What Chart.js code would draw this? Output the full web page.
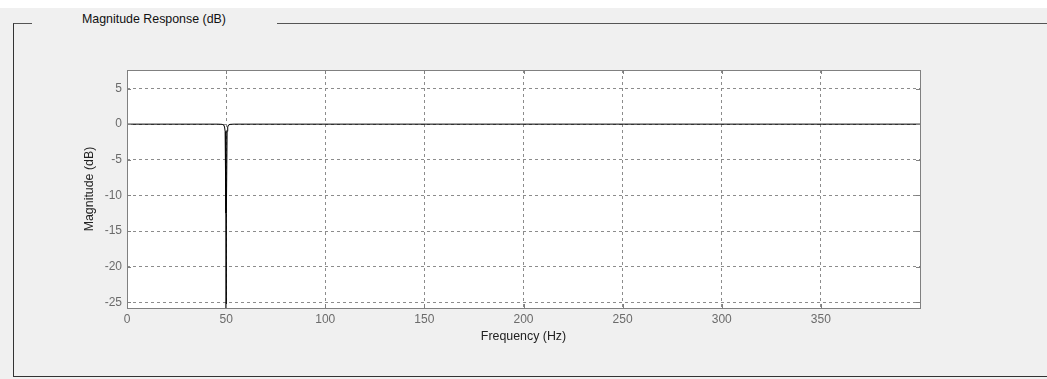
<!DOCTYPE html>
<html>
<head>
<meta charset="utf-8">
<script src="https://cdn.jsdelivr.net/npm/chart.js@4/dist/chart.umd.min.js"></script>
<style>
  html, body { margin: 0; padding: 0; }
  body { width: 1047px; height: 379px; background: #f0f0f0; position: relative; overflow: hidden;
         font-family: "Liberation Sans", Arial, sans-serif; }
  #topstrip { position: absolute; left: 0; top: 0; width: 1047px; height: 8px; background: #fff; }
  #panel { position: absolute; left: 13px; top: 23px; width: 1100px; height: 352px;
           border-left: 1px solid #333; border-top: 1px solid #555; border-bottom: 1px solid #333; }
  #panelTitle { position: absolute; left: 32px; top: 11px; width: 245px; height: 17px; background: #f0f0f0;
                font-size: 12.4px; color: #111; line-height: 17px; padding-left: 50px; box-sizing: border-box; }
  #wrap { position: absolute; left: 0; top: 0; width: 1047px; height: 379px; }
</style>
</head>
<body>
<div id="topstrip"></div>
<div id="panel"></div>
<div id="panelTitle">Magnitude Response (dB)</div>
<div id="wrap"><canvas id="resp" width="1047" height="379"></canvas></div>
<script>
// notch filter response
const freqHz = [0, 46, 48, 48.8, 49.2, 49.5, 49.88, 50, 50.12, 50.5, 50.8, 51.2, 52, 54, 400];
const magDb  = [0, 0, -0.03, -0.12, -0.4, -1.0, -12.5, -80, -12.5, -1.0, -0.4, -0.12, -0.03, 0, 0];
const xTicks = [0, 50, 100, 150, 200, 250, 300, 350, 400];
const yTicks = [5, 0, -5, -10, -15, -20, -25];

const tickFont = { family: 'Liberation Sans', size: 12 };

const frame = {
  id: 'frame',
  beforeDraw(chart) {
    const a = chart.chartArea, c = chart.ctx;
    c.save();
    c.fillStyle = '#fff';
    c.fillRect(a.left, a.top, a.right - a.left, a.bottom - a.top);
    c.restore();
  },
  afterDraw(chart) {
    const a = chart.chartArea, c = chart.ctx;
    const xs = chart.scales.x, ys = chart.scales.y;
    c.save();
    c.strokeStyle = '#808080';
    c.lineWidth = 1;
    c.strokeRect(Math.round(a.left) + 0.5, Math.round(a.top) + 0.5,
                 Math.round(a.right - a.left), Math.round(a.bottom - a.top));
    c.beginPath();
    xTicks.forEach(v => {
      const px = Math.round(xs.getPixelForValue(v)) + 0.5;
      c.moveTo(px, a.top); c.lineTo(px, a.top + 4);
      c.moveTo(px, a.bottom); c.lineTo(px, a.bottom - 4);
    });
    yTicks.forEach(v => {
      const py = Math.round(ys.getPixelForValue(v)) + 0.5;
      c.moveTo(a.left, py); c.lineTo(a.left + 4, py);
      c.moveTo(a.right, py); c.lineTo(a.right - 4, py);
    });
    c.stroke();
    c.restore();
  }
};

new Chart(document.getElementById('resp'), {
  type: 'line',
  data: {
    datasets: [{
      data: freqHz.map((f, i) => ({ x: f, y: magDb[i] })),
      borderColor: '#000',
      borderWidth: 1,
      pointRadius: 0,
      tension: 0
    }]
  },
  options: {
    responsive: false,
    animation: false,
    events: [],
    layout: { padding: { left: 80, right: 127, top: 70, bottom: 33 } },
    plugins: { legend: { display: false }, tooltip: { enabled: false } },
    scales: {
      x: {
        type: 'linear',
        min: 0,
        max: 400,
        afterFit: s => { s.height = 38; },
        afterBuildTicks: s => { s.ticks = xTicks.map(v => ({ value: v })); },
        ticks: {
          color: '#6b6b6b',
          font: tickFont,
          padding: 4,
          maxRotation: 0,
          callback: v => (v === 400 ? '' : v)
        },
        grid: { color: '#8c8c8c', lineWidth: 1, drawTicks: false },
        border: { display: false, dash: [3, 3] },
        title: { display: true, text: 'Frequency (Hz)', color: '#222', font: { family: 'Liberation Sans', size: 12.4 }, padding: { top: 0, bottom: 2 } }
      },
      y: {
        type: 'linear',
        min: -25.8,
        max: 7.6,
        afterFit: s => { s.width = 47; },
        afterBuildTicks: s => { s.ticks = yTicks.map(v => ({ value: v })); },
        ticks: { color: '#6b6b6b', font: tickFont, padding: 5 },
        grid: { color: '#8c8c8c', lineWidth: 1, drawTicks: false },
        border: { display: false, dash: [3, 3] },
        title: { display: true, text: 'Magnitude (dB)', color: '#222', font: { family: 'Liberation Sans', size: 12.4 }, padding: { top: 2, bottom: 0 } }
      }
    }
  },
  plugins: [frame]
});
</script>
</body>
</html>
